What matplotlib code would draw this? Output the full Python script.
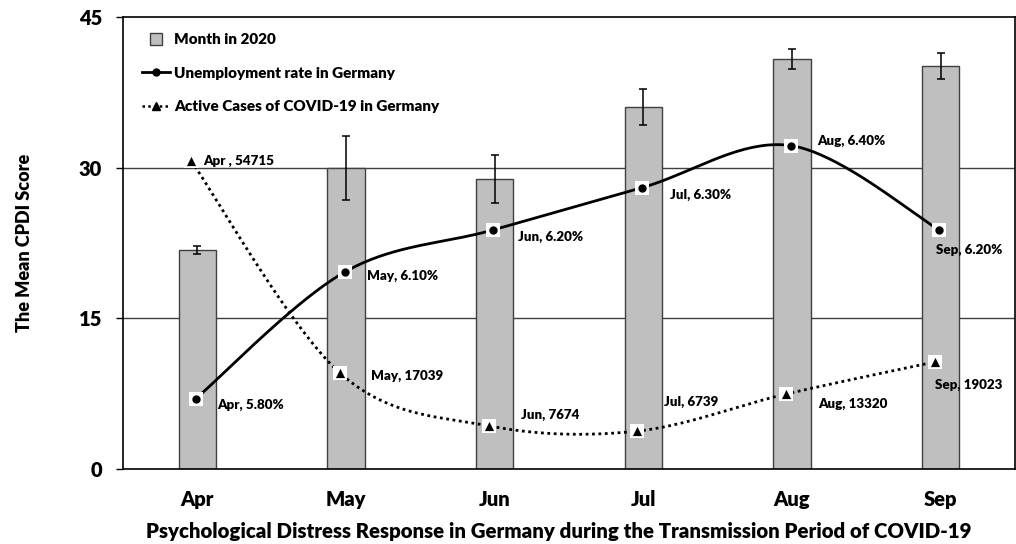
import numpy as np
import matplotlib
matplotlib.use("Agg")
import matplotlib.pyplot as plt
from matplotlib.lines import Line2D

months = ["Apr", "May", "Jun", "Jul", "Aug", "Sep"]
cpdi_mean = [21.8, 30.0, 28.9, 36.0, 40.8, 40.1]
cpdi_err = [0.4, 3.2, 2.4, 1.8, 1.0, 1.3]
unemployment = [5.8, 6.1, 6.2, 6.3, 6.4, 6.2]
unemp_labels = ["Apr, 5.80%", "May, 6.10%", "Jun, 6.20%", "Jul, 6.30%", "Aug, 6.40%", "Sep, 6.20%"]
active_cases = [54715, 17039, 7674, 6739, 13320, 19023]
case_labels = ["Apr , 54715", "May, 17039", "Jun, 7674", "Jul, 6739", "Aug, 13320", "Sep, 19023"]
y_ticks = [0, 15, 30, 45]

# scaling of the secondary series onto the CPDI axis (as in the original chart)
UNEMP_BASE, UNEMP_SCALE = 5.6333, 42.0
CASES_SCALE = 1.0 / 1785.0

plt.rcParams['font.family'] = ['Lato', 'DejaVu Sans']
plt.rcParams['font.weight'] = 'bold'
W = 'heavy'

fig = plt.figure(figsize=(10.16, 5.44), dpi=100)
ax = fig.add_axes([123/1016, 1-469/544, (1015-123)/1016, (469-17)/544])

x = np.arange(len(months))
ax.bar(x, cpdi_mean, width=0.25, color="#BFBFBF", edgecolor="#404040", linewidth=1.0, zorder=2)
ax.errorbar(x, cpdi_mean, yerr=cpdi_err, fmt='none', ecolor='black', elinewidth=1.1,
            capsize=3, capthick=1.1, zorder=3)


def smooth(xs, ys, n=40):
    xs = np.asarray(xs, float); ys = np.asarray(ys, float)
    P = np.column_stack([xs, ys])
    P = np.vstack([P[0], P, P[-1]])
    out = []
    for i in range(1, len(P) - 2):
        p0, p1, p2, p3 = P[i-1], P[i], P[i+1], P[i+2]
        c1 = p1 + (p2 - p0) / 6.0
        c2 = p2 - (p3 - p1) / 6.0
        t = np.linspace(0, 1, n)[:, None]
        seg = ((1-t)**3)*p1 + 3*((1-t)**2)*t*c1 + 3*(1-t)*t**2*c2 + t**3*p2
        out.append(seg if i == 1 else seg[1:])
    out = np.vstack(out)
    return out[:, 0], out[:, 1]

u_y = (np.array(unemployment) - UNEMP_BASE) * UNEMP_SCALE
c_y = np.array(active_cases) * CASES_SCALE
ux = x - 0.01
cx = x - 0.04

sx, sy = smooth(ux, u_y)
ax.plot(sx, sy, color='black', lw=2.0, zorder=4, solid_capstyle='round')
sx2, sy2 = smooth(cx, c_y)
ax.plot(sx2, sy2, color='black', lw=2.0, ls=(0, (1, 1.3)), zorder=4)

ax.scatter(ux, u_y, marker='s', s=100, color='white', zorder=5, linewidths=0)
ax.scatter(ux, u_y, marker='o', s=36, color='black', zorder=6, linewidths=0)
ax.scatter(cx, c_y, marker='s', s=100, color='white', zorder=5, linewidths=0)
ax.scatter(cx, c_y, marker='^', s=44, color='black', zorder=6, linewidths=0)

u_off = [(21, -6), (22, -4), (25, -7), (28, -7), (27, 5), (-3, -20)]
c_off = [(12, 0), (31, -3), (32, 11), (27, 29), (32, -10), (0, -23)]
for xi, yi, lab, off in zip(ux, u_y, unemp_labels, u_off):
    ax.annotate(lab, (xi, yi), xytext=off, textcoords='offset pixels', fontsize=9.6,
                fontweight=W, va='center', ha='left', zorder=7)
for xi, yi, lab, off in zip(cx, c_y, case_labels, c_off):
    ax.annotate(lab, (xi, yi), xytext=off, textcoords='offset pixels', fontsize=9.6,
                fontweight=W, va='center', ha='left', zorder=7)

ax.set_xlim(-0.5, len(months) - 0.5)
ax.set_ylim(0, 45)
ax.set_yticks(y_ticks)
ax.set_yticklabels([str(v) for v in y_ticks], fontsize=14.5, fontweight=W)
ax.set_xticks(x)
ax.set_xticklabels(months, fontsize=14.5, fontweight=W)
ax.tick_params(axis='x', length=0, pad=15)
ax.tick_params(axis='y', length=5, width=1, direction='out', pad=10)
for v in [15, 30]:
    ax.axhline(v, color='#404040', lw=1.0, zorder=1)
for s in ax.spines.values():
    s.set_linewidth(1.2)
    s.set_color('black')

ax.set_ylabel("The Mean CPDI Score", fontsize=13, fontweight=W, labelpad=33)
ax.set_xlabel("Psychological Distress Response in Germany during the Transmission Period of COVID-19",
              fontsize=14.7, fontweight=W)
ax.xaxis.set_label_coords(0.488, -0.117)
ax.xaxis.label.set_va('top')

handles = [
    Line2D([], [], ls='none', marker='s', markersize=8, markerfacecolor="#BFBFBF",
           markeredgecolor="#404040", markeredgewidth=1.0),
    Line2D([], [], color='black', lw=2, marker='o', markersize=5),
    Line2D([], [], color='black', lw=1.8, ls=(0, (1, 1.3)), marker='^', markersize=6),
]
labels = ["Month in 2020", "Unemployment rate in Germany", "Active Cases of COVID-19 in Germany"]
leg = ax.legend(handles, labels, loc='upper left', bbox_to_anchor=(0.006, 0.995), frameon=False,
                labelspacing=1.35, handlelength=1.8, handletextpad=0.3,
                prop={'weight': W, 'size': 11})

fig.savefig("out.png", dpi=100)
